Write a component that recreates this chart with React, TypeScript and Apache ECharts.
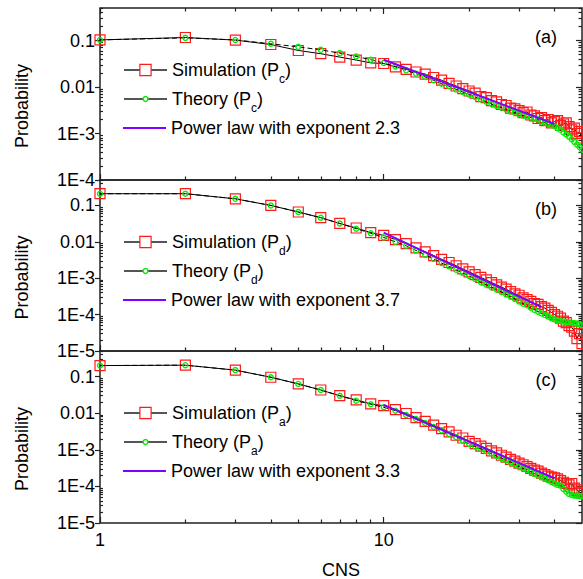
import React, { useEffect, useRef } from 'react';
import * as echarts from 'echarts';

// ---------- data ----------
const cns = [1, 2, 3, 4, 5, 6, 7, 8, 9, 10, 11, 12, 13, 14, 15, 16, 17, 18, 19, 20, 21, 22, 23, 24, 25, 26, 27, 28, 29, 30, 31, 32, 33, 34, 35, 36, 37, 38, 39, 40, 41, 42, 43, 44, 45, 46, 47, 48, 49, 50];

const simPc = [0.103, 0.116, 0.102, 0.082, 0.061, 0.052, 0.044, 0.038, 0.033, 0.032, 0.027, 0.024, 0.021, 0.019, 0.016, 0.014, 0.012, 0.0105, 0.0092, 0.0082, 0.0074, 0.0062, 0.0059, 0.0051, 0.0048, 0.0042, 0.004, 0.0035, 0.0034, 0.0031, 0.0028, 0.0029, 0.0025, 0.0024, 0.0021, 0.0022, 0.0019, 0.002, 0.0017, 0.0018, 0.0019, 0.0015, 0.0016, 0.0017, 0.0014, 0.0012, 0.0013, 0.001, 0.0011, 0.0008];
const theoryPc = [0.103, 0.114, 0.103, 0.085, 0.073, 0.063, 0.0535, 0.0455, 0.0386, 0.0327, 0.0277, 0.0228, 0.0193, 0.0164, 0.0139, 0.0118, 0.0104, 0.0089, 0.0078, 0.0069, 0.0061, 0.0054, 0.0048, 0.0043, 0.0039, 0.0036, 0.0033, 0.003, 0.0028, 0.0026, 0.0024, 0.0023, 0.0022, 0.0021, 0.002, 0.0018, 0.0017, 0.0016, 0.0015, 0.00144, 0.0013, 0.0012, 0.00105, 0.00095, 0.00085, 0.00075, 0.00066, 0.00058, 0.00051, 0.00045];
const powerXPc = [10, 40];
const powerYPc = [0.0385, 0.0016];

const simPd = [0.21, 0.21, 0.152, 0.1, 0.066, 0.046, 0.032, 0.024, 0.018, 0.015, 0.0115, 0.0089, 0.0068, 0.0053, 0.0042, 0.0033, 0.0027, 0.0022, 0.0018, 0.0015, 0.00125, 0.00105, 0.0009, 0.00076, 0.00066, 0.00057, 0.0005, 0.00043, 0.00037, 0.00034, 0.00029, 0.00026, 0.00023, 0.0002, 0.00019, 0.000165, 0.00015, 0.00013, 0.000115, 0.0001, 0.00009, 0.00008, 0.000066, 0.00006, 0.00005, 0.000045, 0.000035, 0.000022, 0.00003, 0.000016];
const theoryPd = [0.21, 0.21, 0.152, 0.1, 0.066, 0.046, 0.032, 0.023, 0.0172, 0.0132, 0.01, 0.0078, 0.0058, 0.0044, 0.0034, 0.0026, 0.0021, 0.0017, 0.0014, 0.00115, 0.00095, 0.00078, 0.00066, 0.00056, 0.00049, 0.00042, 0.00036, 0.00031, 0.00027, 0.00023, 0.0002, 0.00018, 0.000155, 0.000135, 0.00012, 0.000107, 0.000097, 0.000088, 0.00008, 0.000074, 0.00007, 0.000067, 0.000065, 0.000063, 0.000061, 0.00006, 0.000058, 0.000057, 0.000054, 0.000051];
const powerXPd = [10, 36];
const powerYPd = [0.018, 0.00016];

const simPa = [0.2, 0.205, 0.15, 0.096, 0.063, 0.043, 0.03, 0.023, 0.018, 0.016, 0.0125, 0.0098, 0.0076, 0.006, 0.0047, 0.0038, 0.0031, 0.0025, 0.0021, 0.0017, 0.00148, 0.00126, 0.00109, 0.00094, 0.00082, 0.00071, 0.00063, 0.00055, 0.00049, 0.00043, 0.00039, 0.00035, 0.00031, 0.00028, 0.00026, 0.00023, 0.00021, 0.00019, 0.00018, 0.00017, 0.00016, 0.000145, 0.00013, 0.00012, 0.00011, 0.00012, 0.00009, 0.00008, 0.00007, 0.000065];
const theoryPa = [0.2, 0.205, 0.15, 0.096, 0.063, 0.043, 0.03, 0.022, 0.0176, 0.0145, 0.0117, 0.0089, 0.0069, 0.0054, 0.0042, 0.0034, 0.0027, 0.0022, 0.0018, 0.00145, 0.00124, 0.00106, 0.00092, 0.00079, 0.00068, 0.00059, 0.00052, 0.00046, 0.0004, 0.00035, 0.00031, 0.00028, 0.00025, 0.00022, 0.0002, 0.00018, 0.000165, 0.000148, 0.000132, 0.00012, 0.00011, 0.000105, 0.000085, 0.000072, 0.000062, 0.000058, 0.000056, 0.000056, 0.000054, 0.000055];
const powerXPa = [10, 40];
const powerYPa = [0.0169, 0.000167];

// ---------- ticks ----------
const xMajorTicks = [1, 10];
const xMinorTicks = [2, 3, 4, 5, 6, 7, 8, 9, 20, 30, 40];
const yMajorTicksA = [0.0001, 0.001, 0.01, 0.1];
const yMajorTicksBC = [0.00001, 0.0001, 0.001, 0.01, 0.1];

const FONT = "'Liberation Sans', Arial, Helvetica, sans-serif";
const AXIS_COLOR = '#222';

function minorLogTicks(minExp: number, maxVal: number): number[] {
  const out: number[] = [];
  for (let e = minExp; e <= 0; e++) {
    for (let m = 2; m <= 9; m++) {
      const v = Number((m * Math.pow(10, e)).toPrecision(3));
      if (v <= maxVal) out.push(v);
    }
  }
  return out;
}

function fmtY(v: number): string {
  const e = Math.round(Math.log10(v));
  if (e === -1) return '0.1';
  if (e === -2) return '0.01';
  return '1E' + e;
}

function buildOption() {
  const panels = [
    { sim: simPc, theory: theoryPc, px: powerXPc, py: powerYPc, sub: 'c', exp: '2.3', yMin: 0.0001, yMinExp: -4, yMajor: yMajorTicksA, tag: '(a)', top: 8, height: 172 },
    { sim: simPd, theory: theoryPd, px: powerXPd, py: powerYPd, sub: 'd', exp: '3.7', yMin: 0.00001, yMinExp: -5, yMajor: yMajorTicksBC, tag: '(b)', top: 180, height: 171 },
    { sim: simPa, theory: theoryPa, px: powerXPa, py: powerYPa, sub: 'a', exp: '3.3', yMin: 0.00001, yMinExp: -5, yMajor: yMajorTicksBC, tag: '(c)', top: 351, height: 172 },
  ];
  const yMax = 0.5;
  const grid: any[] = [];
  const xAxis: any[] = [];
  const yAxis: any[] = [];
  const series: any[] = [];
  const legend: any[] = [];
  const graphic: any[] = [];
  const tickLine = { color: AXIS_COLOR, width: 1.2 };
  const labelStyle = { fontSize: 18, color: '#000', fontFamily: FONT };
  const textStyle = {
    fontSize: 18,
    lineHeight: 20,
    color: '#000',
    fontFamily: FONT,
    rich: {
      s: { fontSize: 12, lineHeight: 12, padding: [18, 0, 0, 0], color: '#000', fontFamily: FONT },
    },
  };
  const legendFormatter = (name: string) => name.replace(/\(P(\w)\)/, '(P{s|$1})');

  panels.forEach((p, i) => {
    grid.push({ left: 100, top: p.top, width: 482, height: p.height, show: true, borderColor: AXIS_COLOR, borderWidth: 1.5, backgroundColor: 'transparent' });

    const xMain = xAxis.length;
    xAxis.push({
      type: 'log', gridIndex: i, min: 1, max: 50, position: 'bottom',
      axisLine: { show: false }, splitLine: { show: false },
      axisTick: { show: true, inside: true, length: 6, lineStyle: tickLine, customValues: xMajorTicks },
      axisLabel: { show: i === 2, customValues: xMajorTicks, margin: 8, ...labelStyle, formatter: (v: number) => String(Math.round(v)) },
    });
    xAxis.push({
      type: 'log', gridIndex: i, min: 1, max: 50, position: 'bottom',
      axisLine: { show: false }, splitLine: { show: false },
      axisTick: { show: true, inside: true, length: 3.5, lineStyle: tickLine, customValues: xMinorTicks },
      axisLabel: { show: false },
    });
    if (i === 0) {
      xAxis.push({
        type: 'log', gridIndex: i, min: 1, max: 50, position: 'top',
        axisLine: { show: false }, splitLine: { show: false },
        axisTick: { show: true, inside: true, length: 6, lineStyle: tickLine, customValues: xMajorTicks },
        axisLabel: { show: false },
      });
      xAxis.push({
        type: 'log', gridIndex: i, min: 1, max: 50, position: 'top',
        axisLine: { show: false }, splitLine: { show: false },
        axisTick: { show: true, inside: true, length: 3.5, lineStyle: tickLine, customValues: xMinorTicks },
        axisLabel: { show: false },
      });
    }

    const minor = minorLogTicks(p.yMinExp, yMax);
    const yMain = yAxis.length;
    yAxis.push({
      type: 'log', gridIndex: i, min: p.yMin, max: yMax, position: 'left',
      axisLine: { show: false }, splitLine: { show: false },
      axisTick: { show: true, inside: false, length: 5, lineStyle: tickLine, customValues: p.yMajor },
      axisLabel: { show: true, customValues: p.yMajor, margin: 5, ...labelStyle, formatter: fmtY },
    });
    yAxis.push({
      type: 'log', gridIndex: i, min: p.yMin, max: yMax, position: 'left',
      axisLine: { show: false }, splitLine: { show: false },
      axisTick: { show: true, inside: true, length: 3, lineStyle: tickLine, customValues: minor },
      axisLabel: { show: false },
    });
    yAxis.push({
      type: 'log', gridIndex: i, min: p.yMin, max: yMax, position: 'right',
      axisLine: { show: false }, splitLine: { show: false },
      axisTick: { show: true, inside: true, length: 6, lineStyle: tickLine, customValues: p.yMajor },
      axisLabel: { show: false },
    });
    yAxis.push({
      type: 'log', gridIndex: i, min: p.yMin, max: yMax, position: 'right',
      axisLine: { show: false }, splitLine: { show: false },
      axisTick: { show: true, inside: true, length: 3.5, lineStyle: tickLine, customValues: minor },
      axisLabel: { show: false },
    });

    const simName = `Simulation (P${p.sub})`;
    const theoryName = `Theory (P${p.sub})`;
    const powerName = `Power law with exponent ${p.exp}`;

    series.push({
      type: 'line', name: simName, xAxisIndex: xMain, yAxisIndex: yMain,
      data: cns.map((x, k) => [x, p.sim[k]]),
      symbol: 'rect', symbolSize: 10, showAllSymbol: true,
      lineStyle: { color: '#000', width: 1 },
      itemStyle: { color: 'rgba(255,255,255,0)', borderColor: '#ff1a1a', borderWidth: 1.2 },
      emphasis: { disabled: true }, z: 2,
    });
    series.push({
      type: 'line', name: theoryName, xAxisIndex: xMain, yAxisIndex: yMain,
      data: cns.map((x, k) => [x, p.theory[k]]),
      symbol: 'circle', symbolSize: 5, showAllSymbol: true,
      lineStyle: { color: '#000', width: 1, type: [5, 3] },
      itemStyle: { color: 'rgba(255,255,255,0)', borderColor: '#00ee00', borderWidth: 1.4 },
      emphasis: { disabled: true }, z: 3,
    });
    series.push({
      type: 'line', name: powerName, xAxisIndex: xMain, yAxisIndex: yMain,
      data: p.px.map((x, k) => [x, p.py[k]]),
      symbol: 'none',
      lineStyle: { color: '#7f00ff', width: 2 },
      itemStyle: { color: '#7f00ff' },
      emphasis: { disabled: true }, z: 4,
    });

    const common = {
      left: 123, orient: 'horizontal', padding: 0, itemWidth: 43, selectedMode: false,
      textStyle, formatter: legendFormatter,
    };
    legend.push({
      ...common, top: p.top + 62 - 15, itemHeight: 14,
      lineStyle: { color: '#555' },
      itemStyle: { color: '#fff', borderColor: '#ff1a1a', borderWidth: 1.2 },
      data: [{ name: simName }],
    });
    legend.push({
      ...common, top: p.top + 91 - 15, itemHeight: 6,
      lineStyle: { color: '#555', type: 'solid' },
      itemStyle: { color: '#fff', borderColor: '#00ee00', borderWidth: 1.4 },
      data: [{ name: theoryName }],
    });
    legend.push({ ...common, top: p.top + 120 - 10, itemHeight: 2, data: [{ name: powerName, icon: 'rect' }] });

    graphic.push({
      type: 'text', x: 22, y: p.top + p.height / 2 + 12, rotation: Math.PI / 2,
      style: { text: 'Probability', font: `18px ${FONT}`, fill: '#000', textAlign: 'center', textVerticalAlign: 'middle', align: 'center', verticalAlign: 'middle' },
    });
    graphic.push({
      type: 'text', x: 546, y: p.top + 29,
      style: { text: p.tag, font: `18px ${FONT}`, fill: '#000', textAlign: 'center', textVerticalAlign: 'middle', align: 'center', verticalAlign: 'middle' },
    });
  });

  graphic.push({
    type: 'text', x: 341, y: 570,
    style: { text: 'CNS', font: `18px ${FONT}`, fill: '#000', textAlign: 'center', textVerticalAlign: 'middle', align: 'center', verticalAlign: 'middle' },
  });

  return {
    animation: false,
    backgroundColor: '#fff',
    textStyle: { fontFamily: FONT },
    grid, xAxis, yAxis, series, legend, graphic,
  };
}

export default function App() {
  const ref = useRef<HTMLDivElement>(null);
  useEffect(() => {
    if (!ref.current) return;
    const chart = echarts.init(ref.current, null, { renderer: 'svg' });
    chart.setOption(buildOption() as any);
    return () => chart.dispose();
  }, []);
  return (
    <div
      ref={ref}
      style={{ position: 'fixed', left: 0, top: 0, width: 583, height: 579, background: '#fff' }}
    />
  );
}
